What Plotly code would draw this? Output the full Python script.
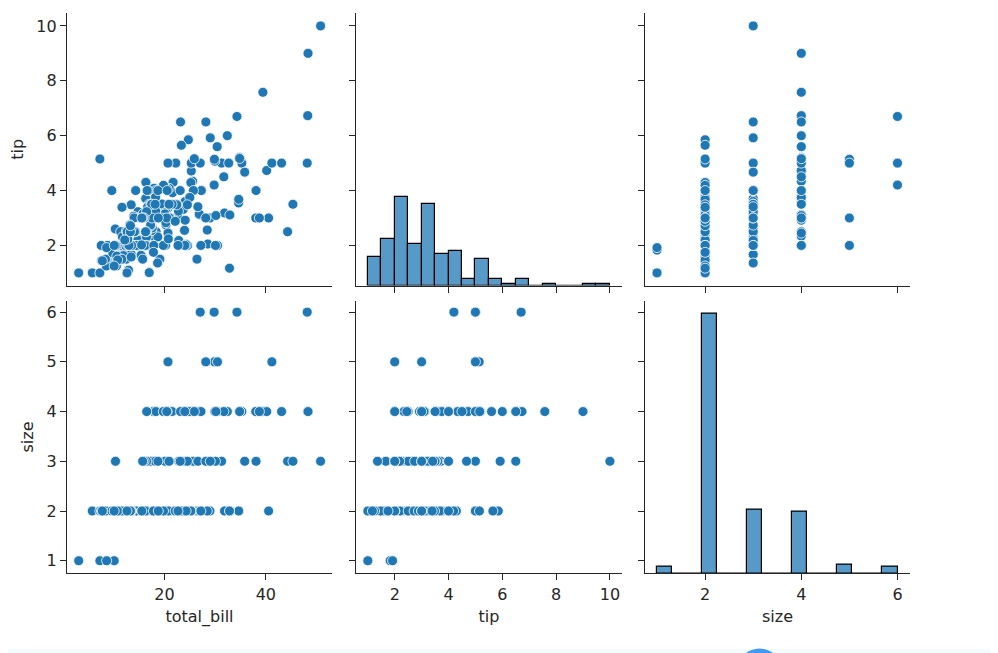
import plotly.graph_objects as go

# tips data: total_bill, tip, size
total_bill = [16.99,10.34,21.01,23.68,24.59,25.29,8.77,26.88,15.04,14.78,10.27,35.26,15.42,18.43,14.83,21.58,10.33,16.29,16.97,20.65,
    17.92,20.29,15.77,39.42,19.82,17.81,13.37,12.69,21.7,19.65,9.55,18.35,15.06,20.69,17.78,24.06,16.31,16.93,18.69,31.27,
    16.04,17.46,13.94,9.68,30.4,18.29,22.23,32.4,28.55,18.04,12.54,10.29,34.81,9.94,25.56,19.49,38.01,26.41,11.24,48.27,
    20.29,13.81,11.02,18.29,17.59,20.08,16.45,3.07,20.23,15.01,12.02,17.07,26.86,25.28,14.73,10.51,17.92,27.2,22.76,17.29,
    19.44,16.66,10.07,32.68,15.98,34.83,13.03,18.28,24.71,21.16,28.97,22.49,5.75,16.32,22.75,40.17,27.28,12.03,21.01,12.46,
    11.35,15.38,44.3,22.42,20.92,15.36,20.49,25.21,18.24,14.31,14.0,7.25,38.07,23.95,25.71,17.31,29.93,10.65,12.43,24.08,
    11.69,13.42,14.26,15.95,12.48,29.8,8.52,14.52,11.38,22.82,19.08,20.27,11.17,12.26,18.26,8.51,10.33,14.15,16.0,13.16,
    17.47,34.3,41.19,27.05,16.43,8.35,18.64,11.87,9.78,7.51,14.07,13.13,17.26,24.55,19.77,29.85,48.17,25.0,13.39,16.49,
    21.5,12.66,16.21,13.81,17.51,24.52,20.76,31.71,10.59,10.63,50.81,15.81,7.25,31.85,16.82,32.9,17.89,14.48,9.6,34.63,
    34.65,23.33,45.35,23.17,40.55,20.69,20.9,30.46,18.15,23.1,15.69,19.81,28.44,15.48,16.58,7.56,10.34,43.11,13.0,13.51,
    18.71,12.74,13.0,16.4,20.53,16.47,26.59,38.73,24.27,12.76,30.06,25.89,48.33,13.27,28.17,12.9,28.15,11.59,7.74,30.14,
    12.16,13.42,8.58,15.98,13.42,16.27,10.09,20.45,13.28,22.12,24.01,15.69,11.61,10.77,15.53,10.07,12.6,32.83,35.83,29.03,
    27.18,22.67,17.82,18.78]
tip = [1.01,1.66,3.5,3.31,3.61,4.71,2.0,3.12,1.96,3.23,1.71,5.0,1.57,3.0,3.02,3.92,1.67,3.71,3.5,3.35,
    4.08,2.75,2.23,7.58,3.18,2.34,2.0,2.0,4.3,3.0,1.45,2.5,3.0,2.45,3.27,3.6,2.0,3.07,2.31,5.0,
    2.24,2.54,3.06,1.32,5.6,3.0,5.0,6.0,2.05,3.0,2.5,2.6,5.2,1.56,4.34,3.51,3.0,1.5,1.76,6.73,
    3.21,2.0,1.98,3.76,2.64,3.15,2.47,1.0,2.01,2.09,1.97,3.0,3.14,5.0,2.2,1.25,3.08,4.0,3.0,2.71,
    3.0,3.4,1.83,5.0,2.03,5.17,2.0,4.0,5.85,3.0,3.0,3.5,1.0,4.3,3.25,4.73,4.0,1.5,3.0,1.5,
    2.5,3.0,2.5,3.48,4.08,1.64,4.06,4.29,3.76,4.0,3.0,1.0,4.0,2.55,4.0,3.5,5.07,1.5,1.8,2.92,
    2.31,1.68,2.5,2.0,2.52,4.2,1.48,2.0,2.0,2.18,1.5,2.83,1.5,2.0,3.25,1.25,2.0,2.0,2.0,2.75,
    3.5,6.7,5.0,5.0,2.3,1.5,1.36,1.63,1.73,2.0,2.5,2.0,2.74,2.0,2.0,5.14,5.0,3.75,2.61,2.0,
    3.5,2.5,2.0,2.0,3.0,3.48,2.24,4.5,1.61,2.0,10.0,3.16,5.15,3.18,4.0,3.11,2.0,2.0,4.0,3.55,
    3.68,5.65,3.5,6.5,3.0,5.0,3.5,2.0,3.5,4.0,1.5,4.19,2.56,2.02,4.0,1.44,2.0,5.0,2.0,2.0,
    4.0,2.01,2.0,2.5,4.0,3.23,3.41,3.0,2.03,2.23,2.0,5.16,9.0,2.5,6.5,1.1,3.0,1.5,1.44,3.09,
    2.2,3.48,1.92,3.0,1.58,2.5,2.0,3.0,2.72,2.88,2.0,3.0,3.39,1.47,3.0,1.25,1.0,1.17,4.67,5.92,
    2.0,2.0,1.75,3.0]
size = [2,3,3,2,4,4,2,4,2,2,2,4,2,4,2,2,3,3,3,3,
    2,2,2,4,2,4,2,2,2,2,2,4,2,4,2,3,3,3,3,3,
    3,2,2,2,4,2,2,4,3,2,2,2,4,2,4,2,4,2,2,4,
    2,2,2,4,3,3,2,1,2,2,2,3,2,2,2,2,2,4,2,2,
    2,2,1,2,2,4,2,2,2,2,2,2,2,2,2,4,2,2,2,2,
    2,2,3,2,2,2,2,2,2,2,2,1,3,2,3,2,4,2,2,4,
    2,2,2,2,2,6,2,2,2,3,2,2,2,2,2,2,2,2,2,2,
    2,6,5,6,2,2,3,2,2,2,2,2,3,4,4,5,6,4,2,4,
    4,2,3,2,2,3,2,4,2,2,3,2,2,2,2,2,2,2,2,2,
    2,2,3,4,2,5,3,5,3,3,2,2,2,2,2,2,2,4,2,2,
    3,2,2,2,4,3,3,4,2,2,3,4,4,2,3,2,5,2,2,4,
    2,2,1,3,2,2,2,4,2,2,4,3,2,2,2,2,2,2,3,3,
    2,2,2,2]

# diagonal histograms
tip_edges = [1, 1.5, 2, 2.5, 3, 3.5, 4, 4.5, 5, 5.5, 6, 6.5, 7, 7.5, 8, 8.5, 9, 9.5, 10]
tip_counts = [17, 28, 53, 25, 49, 19, 21, 4, 16, 4, 1, 4, 0, 1, 0, 0, 1, 1]
size_edges = [1, 1.3125, 1.625, 1.9375, 2.25, 2.5625, 2.875, 3.1875, 3.5, 3.8125, 4.125, 4.4375, 4.75, 5.0625, 5.375, 5.6875, 6]
size_counts = [4, 0, 0, 156, 0, 0, 38, 0, 0, 37, 0, 0, 5, 0, 0, 4]

# the page body has an 8px margin, so the figure sits at (8, 8)
OFF = 8
W, H = 998 - OFF, 653 - OFF
BLUE = "#1f77b4"
INK = "#262626"


def dx(a, b):
    return [(a - OFF) / W, (b - OFF) / W]


def dy(top, bottom):
    return [1 - (bottom - OFF) / H, 1 - (top - OFF) / H]


def centers(edges):
    return [(a + b) / 2 for a, b in zip(edges[:-1], edges[1:])]


def widths(edges):
    return [b - a for a, b in zip(edges[:-1], edges[1:])]


def scatter(x, y, xa, ya):
    return go.Scatter(x=x, y=y, xaxis=xa, yaxis=ya, mode="markers", showlegend=False,
                      marker=dict(color=BLUE, size=10, line=dict(color="white", width=0.8)))


def hist(edges, counts, xa, ya):
    return go.Bar(x=centers(edges), y=counts, width=widths(edges), xaxis=xa, yaxis=ya, showlegend=False,
                  marker=dict(color="rgba(31,119,180,0.75)", line=dict(color="black", width=1.2)))


def blank(xa, ya):
    # keeps the visible tip/size axes of the diagonal panels on the page
    return go.Scatter(x=[None], y=[None], xaxis=xa, yaxis=ya, mode="markers", showlegend=False, hoverinfo="skip")


fig = go.Figure()
fig.add_trace(scatter(total_bill, tip, "x", "y"))
fig.add_trace(blank("x2", "y2"))
fig.add_trace(hist(tip_edges, tip_counts, "x2", "y7"))
fig.add_trace(scatter(size, tip, "x3", "y3"))
fig.add_trace(scatter(total_bill, size, "x4", "y4"))
fig.add_trace(scatter(tip, size, "x5", "y5"))
fig.add_trace(blank("x6", "y6"))
fig.add_trace(hist(size_edges, size_counts, "x6", "y8"))


def axis(**kw):
    base = dict(showline=True, linecolor=INK, linewidth=1.2, showgrid=False, zeroline=False,
                ticks="outside", ticklen=6, tickwidth=1.1, tickcolor=INK,
                tickfont=dict(family="DejaVu Sans", size=16, color=INK))
    base.update(kw)
    return base


def title(text, standoff=8):
    return dict(text=text, font=dict(family="DejaVu Sans", size=16, color=INK), standoff=standoff)


col1, col2, col3 = dx(67, 332), dx(356, 622), dx(645, 910)
row1, row2 = dy(13, 285.5), dy(300.7, 573.3)
bill_range, tip_range, size_range = [0.76, 53.06], [0.56, 10.45], [0.75, 6.26]
tip_yrange, size_yrange = [0.54, 10.47], [0.747, 6.23]
bill_ticks, tip_ticks, size_ticks = [20, 40], [2, 4, 6, 8, 10], [2, 4, 6]
tip_yticks, size_yticks = [2, 4, 6, 8, 10], [1, 2, 3, 4, 5, 6]

fig.update_layout(
    width=W, height=H, margin=dict(l=0, r=0, t=0, b=0),
    paper_bgcolor="white", plot_bgcolor="white", barmode="overlay", bargap=0,
    xaxis=axis(domain=col1, range=bill_range, tickvals=bill_ticks, showticklabels=False, anchor="y"),
    xaxis2=axis(domain=col2, range=tip_range, tickvals=tip_ticks, showticklabels=False, anchor="y2"),
    xaxis3=axis(domain=col3, range=size_range, tickvals=size_ticks, showticklabels=False, anchor="y3"),
    xaxis4=axis(domain=col1, range=bill_range, tickvals=bill_ticks, anchor="y4", title=title("total_bill")),
    xaxis5=axis(domain=col2, range=tip_range, tickvals=tip_ticks, anchor="y5", title=title("tip")),
    xaxis6=axis(domain=col3, range=size_range, tickvals=size_ticks, anchor="y6", title=title("size")),
    yaxis=axis(domain=row1, range=tip_yrange, tickvals=tip_yticks, anchor="x", title=title("tip")),
    yaxis2=axis(domain=row1, range=tip_yrange, tickvals=tip_yticks, showticklabels=False, anchor="x2"),
    yaxis3=axis(domain=row1, range=tip_yrange, tickvals=tip_yticks, showticklabels=False, anchor="x3"),
    yaxis4=axis(domain=row2, range=size_yrange, tickvals=size_yticks, anchor="x4", title=title("size")),
    yaxis5=axis(domain=row2, range=size_yrange, tickvals=size_yticks, showticklabels=False, anchor="x5"),
    yaxis6=axis(domain=row2, range=size_yrange, tickvals=size_yticks, showticklabels=False, anchor="x6"),
    # count scales of the diagonal bars, not drawn
    yaxis7=dict(domain=row1, range=[0, 163.8], overlaying="y2", anchor="x2", visible=False),
    yaxis8=dict(domain=row2, range=[0, 163.8], overlaying="y6", anchor="x6", visible=False),
    shapes=[
        dict(type="rect", xref="paper", yref="paper", x0=0, x1=1, y0=0, y1=4 / H,
             fillcolor="#f5fcff", line_width=0, layer="below"),
        dict(type="circle", xref="paper", yref="paper", x0=(737 - OFF) / W, x1=(782 - OFF) / W,
             y0=1 - (693 - OFF) / H, y1=1 - (648.5 - OFF) / H, fillcolor="#3f9bf5", line_width=0),
    ],
)

fig.write_html("out.html")
